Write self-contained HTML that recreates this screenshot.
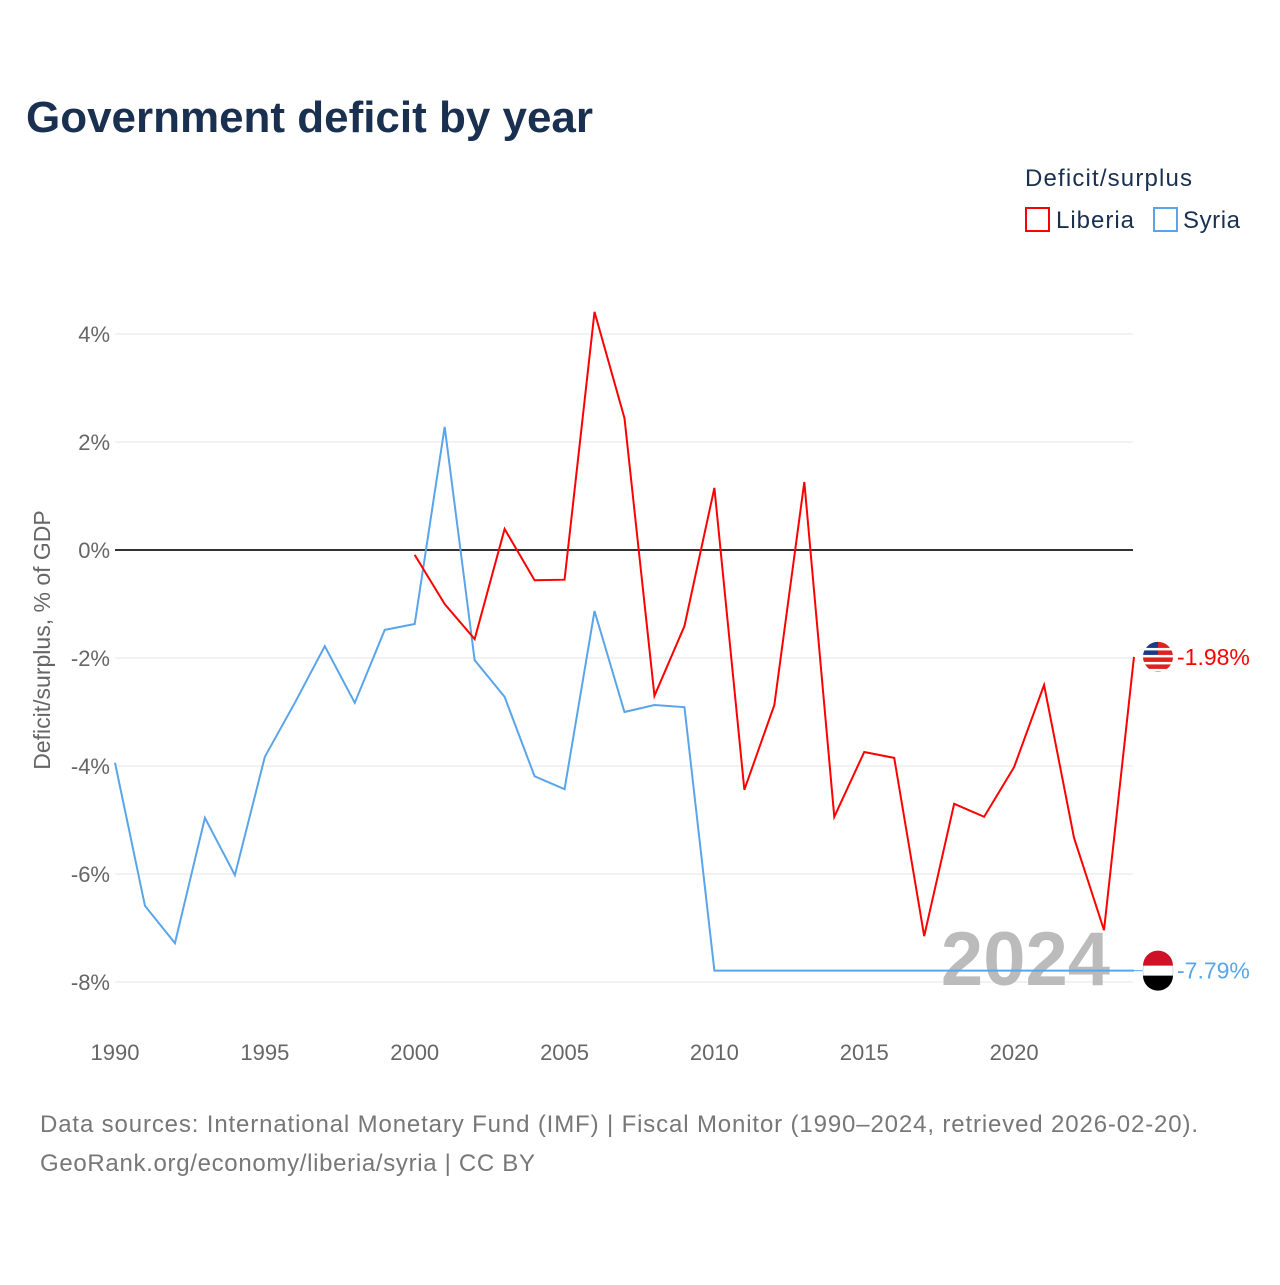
<!DOCTYPE html>
<html><head><meta charset="utf-8"><style>
body{margin:0;background:#fff;font-family:"Liberation Sans",sans-serif;}
svg text{font-family:"Liberation Sans",sans-serif;}
</style></head><body>
<svg width="1280" height="1280" xmlns="http://www.w3.org/2000/svg">
<text x="26" y="132" font-size="44" font-weight="bold" fill="#1a3050" textLength="567">Government deficit by year</text>
<text x="1025" y="186" font-size="24" fill="#1a3050" textLength="167">Deficit/surplus</text>
<g><rect x="1026" y="208" width="23" height="23" fill="none" stroke="#f00" stroke-width="2"/><text x="1056" y="228" font-size="24" fill="#1a3050" textLength="78">Liberia</text></g>
<g><rect x="1154" y="208" width="23" height="23" fill="none" stroke="#5aa5ea" stroke-width="2"/><text x="1183" y="228" font-size="24" fill="#1a3050" textLength="57">Syria</text></g>
<g id="grid"></g>
<text transform="translate(50,640) rotate(-90)" text-anchor="middle" font-size="23" fill="#666">Deficit/surplus, % of GDP</text>
<text x="1110" y="985" text-anchor="end" font-size="76" font-weight="bold" fill="#bbb">2024</text>
<g id="series"></g>
<text x="40" y="1132" font-size="24" fill="#777" textLength="1158">Data sources: International Monetary Fund (IMF) | Fiscal Monitor (1990–2024, retrieved 2026-02-20).</text>
<text x="40" y="1171" font-size="24" fill="#777" textLength="495">GeoRank.org/economy/liberia/syria | CC BY</text>
</svg>
<script>
const yTicks=[4,2,0,-2,-4,-6,-8];
const xTicks=[1990,1995,2000,2005,2010,2015,2020];
const syriaYears=[1990,1991,1992,1993,1994,1995,1996,1997,1998,1999,2000,2001,2002,2003,2004,2005,2006,2007,2008,2009,2010,2011,2012,2013,2014,2015,2016,2017,2018,2019,2020,2021,2022,2023,2024];
const syriaVals=[-3.94,-6.59,-7.28,-4.96,-6.02,-3.83,-2.83,-1.78,-2.83,-1.48,-1.37,2.28,-2.04,-2.72,-4.19,-4.43,-1.13,-3.0,-2.87,-2.91,-7.79,-7.79,-7.79,-7.79,-7.79,-7.79,-7.79,-7.79,-7.79,-7.79,-7.79,-7.79,-7.79,-7.79,-7.79];
const liberiaYears=[2000,2001,2002,2003,2004,2005,2006,2007,2008,2009,2010,2011,2012,2013,2014,2015,2016,2017,2018,2019,2020,2021,2022,2023,2024];
const liberiaVals=[-0.09,-1.0,-1.65,0.39,-0.56,-0.55,4.41,2.44,-2.7,-1.41,1.15,-4.44,-2.87,1.26,-4.94,-3.74,-3.85,-7.15,-4.7,-4.94,-4.02,-2.5,-5.33,-7.04,-1.98];
const NS='http://www.w3.org/2000/svg';
const x=yr=>115+(yr-1990)*29.97;
const y=v=>550-v*54;
function mk(tag,attrs,parent,txt){const e=document.createElementNS(NS,tag);for(const k in attrs)e.setAttribute(k,attrs[k]);if(txt!==undefined)e.textContent=txt;parent.appendChild(e);return e;}
const grid=document.getElementById('grid');
yTicks.forEach(t=>{
 const l=mk('line',{x1:115,x2:1133,y1:y(t),y2:y(t),stroke:t===0?'#333':'#e6e6e6','stroke-width':t===0?2:1},grid);
 
 
 const tx=mk('text',{x:110,y:y(t)+8,'text-anchor':'end','font-size':22,fill:'#666'},grid,t+'%');
 
 
});
xTicks.forEach(t=>{
 const tx=mk('text',{x:x(t),y:1060,'text-anchor':'middle','font-size':22,fill:'#666'},grid,String(t));
 
 
});
const ser=document.getElementById('series');
function line(years,vals,color,name){
 const p=mk('polyline',{points:years.map((yr,i)=>x(yr)+','+y(vals[i])).join(' '),fill:'none',stroke:color,'stroke-width':2},ser);
 
 
}
line(syriaYears,syriaVals,'#5aa5ea','syria-line');
line(liberiaYears,liberiaVals,'#f00','liberia-line');
const sy=syriaVals[syriaVals.length-1], ly=liberiaVals[liberiaVals.length-1];
const lx=x(2024);
const s1=mk('line',{x1:lx,x2:1145,y1:y(sy),y2:y(sy),stroke:'#5aa5ea','stroke-width':1},ser);


const c1=mk('circle',{cx:1158,cy:y(ly),r:15,fill:'#d22'},ser);


const c1b=mk('path',{d:`M1143 ${y(ly)} a15 15 0 0 1 15 -15 v15 z`,fill:'#1a3a8a'},ser);


for(let i=0;i<4;i++){const r=mk('rect',{x:1143,y:y(ly)-12+i*7+3,width:30,height:2.5,fill:'#fff'},ser);}
const c2=mk('circle',{cx:1158,cy:y(sy),r:15,fill:'#fff',stroke:'#ddd'},ser);


const c2a=mk('path',{d:`M1143 ${y(sy)-5} a15 15 0 0 1 30 0 z`,fill:'#ce1126'},ser);


const c2b=mk('path',{d:`M1143 ${y(sy)+5} a15 15 0 0 0 30 0 z`,fill:'#000'},ser);


const t1=mk('text',{x:1177,y:y(ly)+8,'font-size':23,fill:'#f00'},ser,ly.toFixed(2)+'%');


const t2=mk('text',{x:1177,y:y(sy)+8,'font-size':23,fill:'#5aa5ea'},ser,sy.toFixed(2)+'%');


</script>
</body></html>
